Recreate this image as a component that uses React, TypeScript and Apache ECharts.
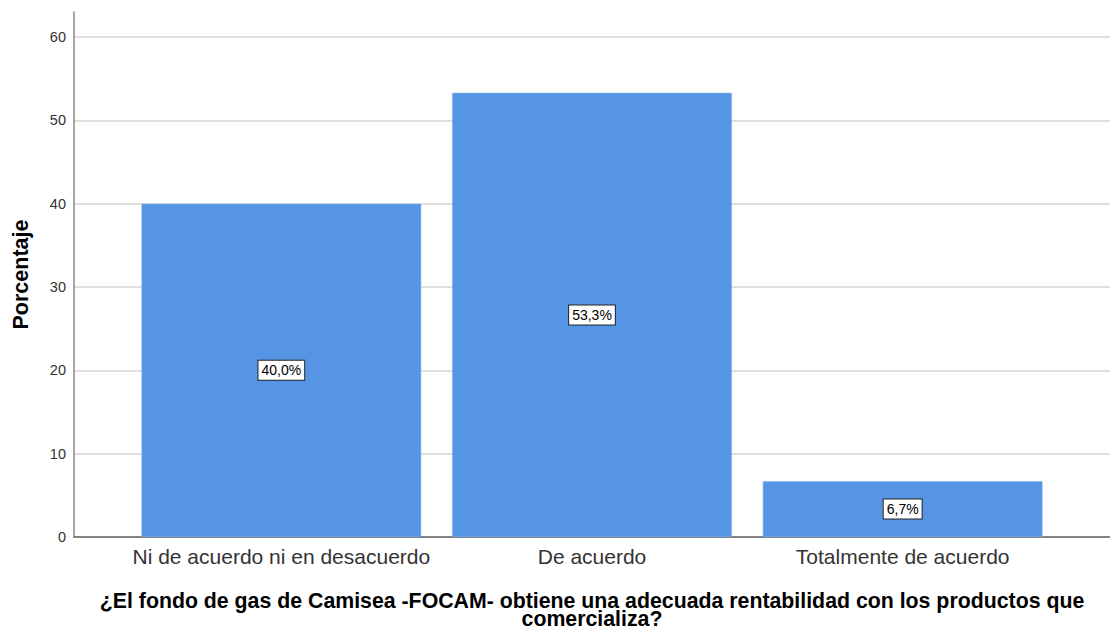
import React, { useEffect, useRef } from "react";
import * as echarts from "echarts";

const categories = ["Ni de acuerdo ni en desacuerdo", "De acuerdo", "Totalmente de acuerdo"];
const percentages = [40.0, 53.3, 6.7];
const yTicks = { min: 0, max: 60, interval: 10 };
const yAxisTitle = "Porcentaje";
const xAxisTitle = "¿El fondo de gas de Camisea -FOCAM- obtiene una adecuada rentabilidad con los productos que\ncomercializa?";

export default function App() {
  const ref = useRef<HTMLDivElement>(null);
  useEffect(() => {
    if (!ref.current) return;
    const chart = echarts.init(ref.current, null, { renderer: "svg" });
    const font = "Arial, 'Liberation Sans', sans-serif";
    const topMax = 63;
    chart.setOption({
      animation: false,
      backgroundColor: "#ffffff",
      textStyle: { fontFamily: font },
      grid: [
        { left: 74, right: 0, top: 12, bottom: 96, outerBoundsMode: "none", containLabel: false },
        { left: 74, right: 0, top: 37, bottom: 96, outerBoundsMode: "none", containLabel: false },
        { left: 126, right: 52, top: 12, bottom: 96, outerBoundsMode: "none", containLabel: false },
      ],
      xAxis: [
        {
          gridIndex: 0, type: "value", min: 0, max: 1,
          axisLine: { show: true, lineStyle: { color: "#666", width: 1.5 } },
          axisTick: { show: false }, axisLabel: { show: false }, splitLine: { show: false },
        },
        {
          gridIndex: 1, type: "value", min: 0, max: 1, show: false,
        },
        {
          gridIndex: 2, type: "category", data: categories,
          axisLine: { show: false }, axisTick: { show: false },
          axisLabel: { color: "#333", fontSize: 21, margin: 9, interval: 0, fontFamily: font },
          name: xAxisTitle, nameLocation: "middle", nameGap: 55,
          nameTextStyle: { color: "#000", fontSize: 21.3, fontWeight: "bold", lineHeight: 18, fontFamily: font },
        },
      ],
      yAxis: [
        {
          gridIndex: 0, type: "value", min: 0, max: topMax,
          axisLine: { show: true, lineStyle: { color: "#888", width: 1.5 } },
          axisTick: { show: false }, axisLabel: { show: false }, splitLine: { show: false },
          name: yAxisTitle, nameLocation: "middle", nameGap: 42,
          nameTextStyle: { color: "#000", fontSize: 21.5, fontWeight: "bold", fontFamily: font },
        },
        {
          gridIndex: 1, type: "value", min: yTicks.min, max: yTicks.max, interval: yTicks.interval,
          axisLine: { show: false }, axisTick: { show: false },
          axisLabel: { color: "#333", fontSize: 14.5, margin: 8, fontFamily: font },
          splitLine: { show: true, lineStyle: { color: "#d4d4d4", width: 1.5 } },
        },
        {
          gridIndex: 2, type: "value", min: 0, max: topMax, show: false,
        },
      ],
      series: [
        {
          type: "bar", xAxisIndex: 2, yAxisIndex: 2,
          data: percentages,
          barCategoryGap: "10%",
          itemStyle: { color: "#5595E3", borderColor: "#7aaeeb", borderWidth: 0.5 },
          label: {
            show: true, position: "inside",
            formatter: (p: any) => p.value.toFixed(1).replace(".", ",") + "%",
            color: "#000", fontSize: 14, fontFamily: font,
            backgroundColor: "#fff", borderColor: "#222", borderWidth: 1,
            padding: [2, 3, 1, 3], lineHeight: 16,
          },
        },
      ],
    });
    return () => chart.dispose();
  }, []);
  return (
    <div
      ref={ref}
      style={{ position: "fixed", left: 0, top: 0, width: 1110, height: 633, background: "#fff" }}
    />
  );
}
